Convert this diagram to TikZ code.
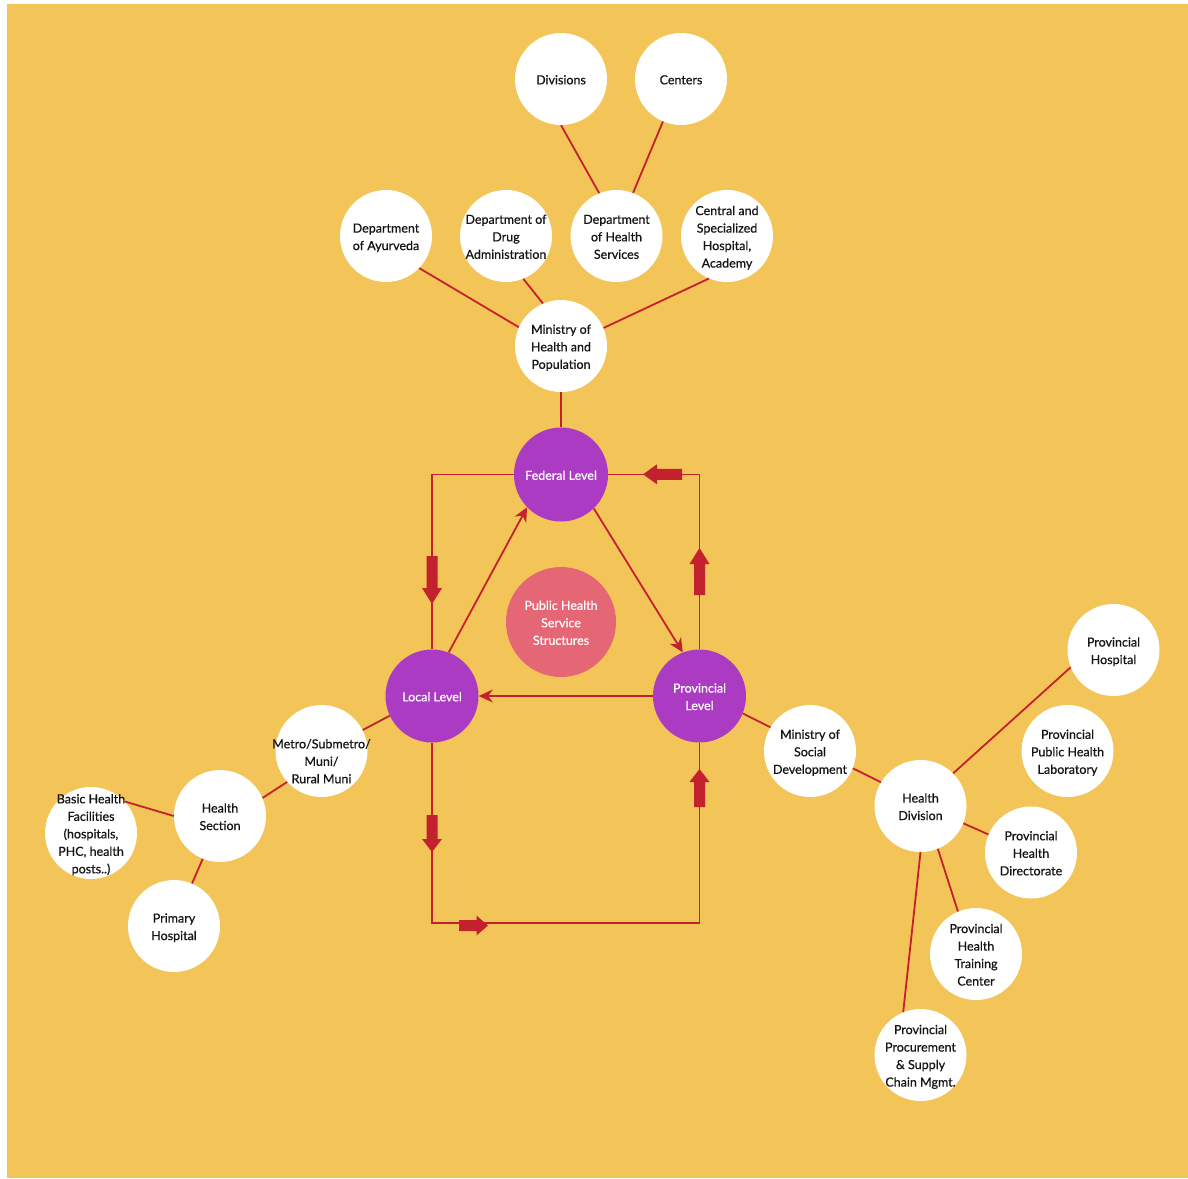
\documentclass[tikz,border=0pt]{standalone}
\usepackage{fontspec}
\setmainfont{Lato}[FakeBold=0.6]
\usetikzlibrary{arrows.meta}
\definecolor{bgyellow}{HTML}{F3C457}
\definecolor{lvlpurple}{HTML}{AB3BC3}
\definecolor{hubpink}{HTML}{E56775}
\definecolor{linkred}{HTML}{C4212F}
\definecolor{inktext}{HTML}{141414}
\newcommand\ctext[2][-1.8pt]{\smash{\raisebox{#1}{\vbox to 0pt{\vss\hbox to 0pt{\hss\begin{tabular}{@{}c@{}}#2\end{tabular}\hss}\vss}}}}
\newcommand\blockarr[4]{\fill[linkred, shift={(#1)}, rotate=#2] (0,0) -- (-#4,10) -- (-#4,5.5) -- (-#3,5.5) -- (-#3,-5.5) -- (-#4,-5.5) -- (-#4,-10) -- cycle;}
\tikzset{
  txtfont/.style={font=\fontsize{12.5}{17.5}\selectfont},
  wc/.style={circle, fill=white, minimum size=92pt, inner sep=0pt, text=inktext, txtfont},
  pc/.style={circle, fill=lvlpurple, minimum size=93pt, inner sep=0pt, text=white, txtfont},
  hubc/.style={circle, fill=hubpink, minimum size=110pt, inner sep=0pt, text=white, txtfont},
  link/.style={draw=linkred, line width=1.8pt},
  flow/.style={link, -{Stealth[length=14pt,width=13pt,inset=4.5pt]}},
}
\begin{document}
\begin{tikzpicture}[x=1pt,y=1pt]
\useasboundingbox (0,0) rectangle (1188,-1178);
\fill[bgyellow] (7,-4) rectangle (1188,-1178);

% federal branch
\node[wc] (div) at (561,-79) {\ctext{Divisions}};
\node[wc] (cen) at (681,-79) {\ctext{Centers}};
\node[wc] (ayu) at (386,-236) {\ctext{Department\\of Ayurveda}};
\node[wc] (drug) at (506,-236) {\ctext{Department of\\Drug\\Administration}};
\node[wc] (dhs) at (616.5,-236) {\ctext{Department\\of Health\\Services}};
\node[wc] (csh) at (727,-236) {\ctext{Central and\\Specialized\\Hospital,\\Academy}};
\node[wc] (moh) at (561,-346) {\ctext{Ministry of\\Health and\\Population}};

% levels
\node[pc, minimum size=94pt] (fed) at (561,-474.5) {\ctext{Federal Level}};
\node[hubc] (hub) at (561,-622) {\ctext{Public Health\\Service\\Structures}};
\node[pc] (loc) at (432,-696) {\ctext{Local Level}};
\node[pc] (prov) at (699.5,-696) {\ctext{Provincial\\Level}};

% local branch
\node[wc] (metro) at (321.5,-751) {\ctext[-11.3pt]{Metro/Submetro/\\Muni/\\Rural Muni}};
\node[wc] (hsec) at (220,-816) {\ctext{Health\\Section}};
\node[wc] (bhf) at (91,-833) {\ctext{Basic Health\\Facilities\\(hospitals,\\PHC, health\\posts..)}};
\node[wc] (phosp) at (174,-926) {\ctext{Primary\\Hospital}};

% provincial branch
\node[wc] (msd) at (810,-751) {\ctext{Ministry of\\Social\\Development}};
\node[wc] (hdiv) at (920.5,-806) {\ctext{Health\\Division}};
\node[wc] (provh) at (1113.5,-650) {\ctext{Provincial\\Hospital}};
\node[wc] (pphl) at (1067.5,-751) {\ctext{Provincial\\Public Health\\Laboratory}};
\node[wc] (phd) at (1031,-852.5) {\ctext{Provincial\\Health\\Directorate}};
\node[wc] (phtc) at (976,-954) {\ctext{Provincial\\Health\\Training\\Center}};
\node[wc] (ppsc) at (920.5,-1055) {\ctext{Provincial\\Procurement\\\& Supply\\Chain Mgmt.}};

% connectors: federal branch
\draw[link] (div.270) -- (dhs.112);
\draw[link] (cen.247) -- (dhs.69);
\draw[link] (ayu.316) -- (moh.156);
\draw[link] (drug.292) -- (moh.113);
\draw[link] (csh.247) -- (moh.23);
\draw[link] (moh.south) -- (fed.north);

% connectors: levels
\draw[link] (fed.west) -| (loc.north);
\draw[link] (prov.north) |- (fed.east);
\draw[flow] (loc.69) -- (fed.224.5);
\draw[flow] (fed.314.6) -- (prov.111.7);
\draw[flow] (prov.west) -- (loc.east);
\draw[link] (loc.south) -- ++(0,-180) -| (prov.south);

% block arrows
\blockarr{432,-604}{-90}{48}{16}
\blockarr{643,-474.3}{180}{39}{14}
\blockarr{699.5,-548}{90}{47}{16}
\blockarr{432,-852}{-90}{37}{13}
\blockarr{488,-925.5}{0}{29}{11.5}
\blockarr{699.5,-769}{90}{38}{13}

% connectors: local branch
\draw[link] (loc.205) -- (metro.27);
\draw[link] (metro.222) -- (hsec.23);
\draw[link] (hsec.180) -- (bhf.43);
\draw[link] (hsec.248) -- (phosp.67);

% connectors: provincial branch
\draw[link] (prov.338) -- (msd.149);
\draw[link] (msd.338) -- (hdiv.149);
\draw[link] (hdiv.45) -- (provh.202);
\draw[link] (hdiv.338) -- (phd.157);
\draw[link] (hdiv.292) -- (phtc.113);
\draw[link] (hdiv.270) -- (ppsc.112);
\end{tikzpicture}
\end{document}
